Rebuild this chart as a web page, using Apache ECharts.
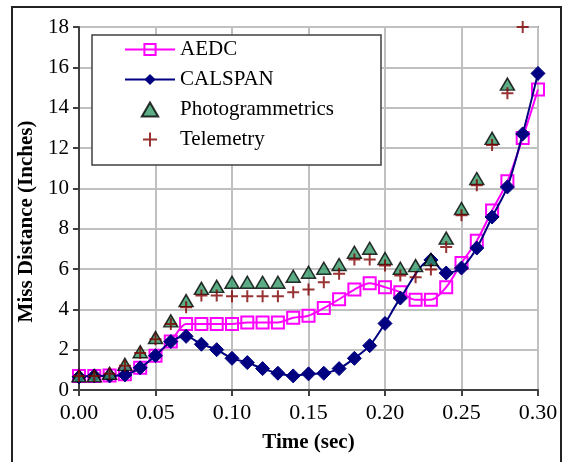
<!DOCTYPE html>
<html>
<head>
<meta charset="utf-8">
<script src="https://cdn.jsdelivr.net/npm/echarts@6/dist/echarts.min.js"></script>
<style>
  html, body { margin: 0; padding: 0; background: #fff; }
  #chart { width: 564px; height: 462px; }
</style>
</head>
<body>
<div id="chart"></div>
<script>
// time stamps (sec)
const timeSec = [0.00, 0.01, 0.02, 0.03, 0.04, 0.05, 0.06, 0.07, 0.08, 0.09,
  0.10, 0.11, 0.12, 0.13, 0.14, 0.15, 0.16, 0.17, 0.18, 0.19,
  0.20, 0.21, 0.22, 0.23, 0.24, 0.25, 0.26, 0.27, 0.28, 0.29, 0.30];

// miss distance (inches) per source
const aedc = [0.7, 0.7, 0.72, 0.78, 1.1, 1.7, 2.4, 3.27, 3.27, 3.27,
  3.27, 3.35, 3.35, 3.35, 3.58, 3.68, 4.06, 4.5, 4.98, 5.29,
  5.1, 4.85, 4.47, 4.47, 5.1, 6.3, 7.4, 8.9, 10.35, 12.5, 14.9];
const calspan = [0.65, 0.7, 0.7, 0.75, 1.1, 1.7, 2.4, 2.66, 2.27, 2.0,
  1.57, 1.36, 1.06, 0.83, 0.7, 0.8, 0.83, 1.06, 1.57, 2.2,
  3.3, 4.56, null, 6.45, 5.8, 6.05, 7.04, 8.58, 10.07, 12.7, 15.7];
const photogrammetrics = [0.7, 0.7, 0.83, 1.27, 1.9, 2.6, 3.43, 4.43, 5.04, 5.14,
  5.34, 5.34, 5.34, 5.34, 5.64, 5.84, 6.04, 6.22, 6.83, 7.03,
  6.52, 6.04, 6.17, 6.47, 7.53, 9.0, 10.49, 12.48, 15.17, null, null];
const telemetry = [0.7, 0.7, 0.8, 1.2, 1.83, 2.52, 3.27, 4.1, 4.68, 4.68,
  4.65, 4.65, 4.65, 4.65, 4.85, 4.98, 5.34, 5.76, 6.47, 6.47,
  6.17, 5.68, 5.59, 5.97, 7.09, 8.66, 10.15, 12.15, 14.72, 18.0, null];

// pair x with y, skip missing points
function pairs(values) {
  return timeSec.map((t, i) => [t, values[i]]).filter(p => p[1] !== null);
}

const FONT = 'Liberation Serif';
const TRIANGLE = 'path://M7,0 L14,12 L0,12 Z';
const chart = echarts.init(document.getElementById('chart'));

const option = {
  animation: false,
  backgroundColor: '#fff',
  grid: {
    left: 79, right: 26, top: 27, bottom: 72,
    show: true,
    borderColor: '#808080',
    borderWidth: 2
  },
  graphic: [
    {
      type: 'rect', z: 0,
      shape: { x: 12, y: 7, width: 549, height: 470 },
      style: { fill: 'none', stroke: '#222', lineWidth: 2 }
    },
    {
      type: 'rect', z: 3,
      shape: { x: 92, y: 35, width: 289, height: 130 },
      style: { fill: '#fff', stroke: '#404040', lineWidth: 1.5 }
    }
  ],
  legend: {
    orient: 'vertical',
    left: 124, top: 39,
    padding: 0,
    itemWidth: 50, itemHeight: 14, itemGap: 9,
    data: [
      { name: 'AEDC' },
      { name: 'CALSPAN' },
      { name: 'Photogrammetrics', icon: TRIANGLE },
      { name: 'Telemetry' }
    ],
    textStyle: { fontFamily: FONT, fontSize: 21, color: '#000', lineHeight: 21 }
  },
  xAxis: {
    type: 'value',
    min: 0, max: 0.3, interval: 0.05,
    name: 'Time (sec)',
    nameLocation: 'middle',
    nameGap: 42,
    nameTextStyle: { fontFamily: FONT, fontSize: 21, fontWeight: 'bold', color: '#000' },
    axisLine: { lineStyle: { color: '#404040', width: 2 } },
    axisTick: { length: 6, lineStyle: { color: '#404040', width: 2 } },
    axisLabel: {
      fontFamily: FONT, fontSize: 22, color: '#000', margin: 12,
      formatter: v => v.toFixed(2)
    },
    splitLine: { show: true, lineStyle: { color: '#c0c0c0', width: 2 } }
  },
  yAxis: {
    type: 'value',
    min: 0, max: 18, interval: 2,
    name: 'Miss Distance (Inches)',
    nameLocation: 'middle',
    nameGap: 36,
    nameTextStyle: {
      fontFamily: FONT, fontSize: 21, fontWeight: 'bold', color: '#000',
      padding: [0, 26, 0, 0]
    },
    axisLine: { show: true, lineStyle: { color: '#404040', width: 2 } },
    axisTick: { show: true, length: 6, lineStyle: { color: '#404040', width: 2 } },
    axisLabel: { fontFamily: FONT, fontSize: 21, color: '#000', margin: 10 },
    splitLine: { show: true, lineStyle: { color: '#c0c0c0', width: 2 } }
  },
  series: [
    {
      name: 'AEDC',
      type: 'line',
      data: pairs(aedc),
      smooth: 0.3,
      symbol: 'rect',
      symbolSize: 12,
      lineStyle: { color: '#ff00ff', width: 2 },
      itemStyle: { color: 'rgba(0,0,0,0)', borderColor: '#ff00ff', borderWidth: 2 },
      z: 5
    },
    {
      name: 'CALSPAN',
      type: 'line',
      data: pairs(calspan),
      smooth: 0.3,
      symbol: 'diamond',
      symbolSize: 14,
      lineStyle: { color: '#000080', width: 2 },
      itemStyle: { color: '#000080', borderColor: '#000080' },
      z: 6
    },
    {
      name: 'Photogrammetrics',
      type: 'scatter',
      data: pairs(photogrammetrics),
      symbol: TRIANGLE,
      symbolSize: [14, 12],
      itemStyle: { color: '#339966', borderColor: '#000', borderWidth: 1.5 },
      z: 7
    },
    {
      name: 'Telemetry',
      type: 'scatter',
      data: pairs(telemetry),
      symbol: 'path://M5,0 L5,10 M0,5 L10,5',
      symbolSize: 12,
      clip: false,
      itemStyle: { color: 'none', borderColor: '#800000', borderWidth: 2 },
      z: 8
    }
  ]
};

chart.setOption(option);
window.addEventListener('resize', () => chart.resize());
</script>
</body>
</html>
